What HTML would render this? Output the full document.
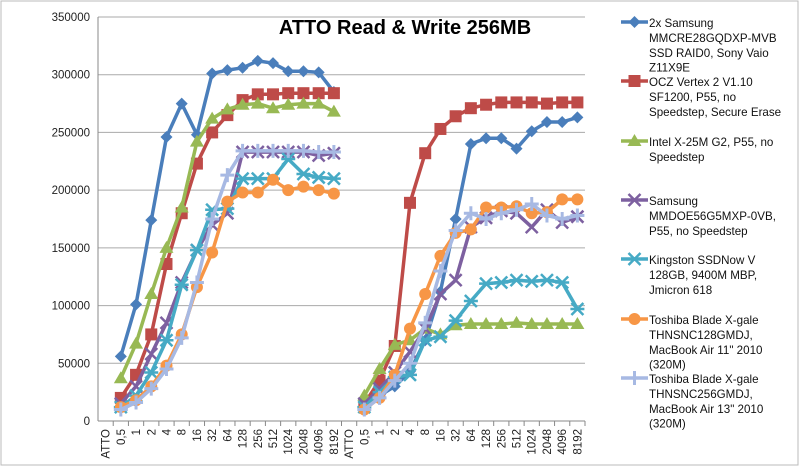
<!DOCTYPE html>
<html><head><meta charset="utf-8"><style>
body{margin:0;background:#fff;}
svg{display:block;font-family:"Liberation Sans",sans-serif;}
</style></head><body>
<svg id="chart" width="800" height="467" viewBox="0 0 800 467" xmlns="http://www.w3.org/2000/svg">
<rect x="1" y="1" width="797" height="464" fill="#fff" stroke="#bbb"/>
<text x="405" y="34" text-anchor="middle" font-size="20" font-weight="bold">ATTO Read &amp; Write 256MB</text>
<g id="grid"></g><g id="axes"></g><g id="series"></g><g id="legend"></g>
</svg>
<script>
const categories=["ATTO","0,5","1","2","4","8","16","32","64","128","256","512","1024","2048","4096","8192","ATTO","0,5","1","2","4","8","16","32","64","128","256","512","1024","2048","4096","8192"];
const yTicks=[0,50000,100000,150000,200000,250000,300000,350000];
const seriesNames=[["2x Samsung","MMCRE28GQDXP-MVB","SSD RAID0, Sony Vaio","Z11X9E"],["OCZ Vertex 2 V1.10","SF1200, P55,  no","Speedstep, Secure Erase"],["Intel X-25M G2, P55, no","Speedstep"],["Samsung","MMDOE56G5MXP-0VB,","P55, no Speedstep"],["Kingston SSDNow V","128GB, 9400M MBP,","Jmicron 618"],["Toshiba Blade X-gale","THNSNC128GMDJ,","MacBook Air 11\" 2010","(320M)"],["Toshiba Blade X-gale","THNSNC256GMDJ,","MacBook Air 13\" 2010","(320M)"]];
const s1=[null,56000,101000,174000,246000,275000,248000,301000,304000,306000,312000,310000,303000,303000,302000,285000,null,15000,22000,30000,43000,70000,112000,175000,240000,245000,245000,236000,251000,259000,259000,263000];
const s2=[null,20000,40000,75000,136000,180000,223000,250000,265000,278000,283000,283000,284000,284000,284000,284000,null,15000,35000,65000,189000,232000,253000,264000,271000,274000,276000,276000,276000,275000,276000,276000];
const s3=[null,37000,67000,110000,150000,185000,242000,262000,270000,274000,275000,271000,274000,275000,275000,268000,null,22000,45000,66000,70000,80000,75000,83000,84000,84000,84000,85000,84000,84000,84000,84000];
const s4=[null,15000,30000,58000,85000,120000,148000,170000,180000,233000,233000,233000,233000,233000,230000,232000,null,15000,28000,42000,60000,80000,110000,122000,168000,176000,182000,180000,168000,183000,172000,177000];
const s5=[null,12000,22000,42000,70000,118000,148000,183000,184000,210000,210000,210000,227000,214000,211000,210000,null,12000,25000,38000,40000,70000,73000,87000,104000,119000,120000,122000,121000,122000,120000,97000];
const s6=[null,12000,18000,30000,48000,75000,116000,146000,190000,198000,198000,209000,200000,203000,200000,197000,null,10000,20000,40000,80000,110000,143000,163000,166000,185000,185000,186000,180000,181000,192000,192000];
const s7=[null,10000,16000,28000,45000,72000,120000,175000,213000,234000,234000,234000,234000,234000,233000,233000,null,10000,20000,35000,50000,85000,130000,165000,180000,175000,180000,183000,188000,178000,175000,178000];
const allSeries=[s1,s2,s3,s4,s5,s6,s7];
const colors=["#4A7EBB","#BE4B48","#98B954","#7D60A0","#46AAC5","#F79646","#A7B9E3"];
const markers=["diamond","square","triangle","x","star","circle","plus"];
const L=98,R=585,T=17,B=421,ymax=350000;
const NS="http://www.w3.org/2000/svg";
const xs=i=>L+(R-L)/categories.length*(i+0.5);
const ys=v=>B-(B-T)*v/ymax;
function mk(tag,at,parent){const e=document.createElementNS(NS,tag);for(const k in at)e.setAttribute(k,at[k]);parent.appendChild(e);return e;}
const grid=document.getElementById('grid'),axes=document.getElementById('axes'),ser=document.getElementById('series'),leg=document.getElementById('legend');
yTicks.forEach(t=>{
 const y=ys(t);
 const g=mk('line',{x1:L,x2:R,y1:y,y2:y,stroke:t===0?'#888':'#aaa','stroke-width':1},grid);
 
 
 const tx=mk('text',{x:L-8,y:y+4,'text-anchor':'end','font-size':11.5,fill:'#222'},axes);
 tx.textContent=t;
 
 
});
const ax=mk('line',{x1:L,x2:L,y1:T,y2:B,stroke:'#888'},axes);


categories.forEach((c,i)=>{
 const x=xs(i);
 const tk=mk('line',{x1:L+(R-L)/categories.length*(i+1),x2:L+(R-L)/categories.length*(i+1),y1:B,y2:B+5,stroke:'#888'},axes);
 
 
 const tx=mk('text',{x:x+4,y:B+8,'text-anchor':'end','font-size':11.5,fill:'#222',transform:`rotate(-90 ${x+4} ${B+8})`},axes);
 tx.textContent=c;
 
 
});
function marker(type,x,y,col,parent){
 let e;
 if(type==='diamond')e=mk('path',{d:`M${x} ${y-6}L${x+6} ${y}L${x} ${y+6}L${x-6} ${y}Z`,fill:col},parent);
 else if(type==='square')e=mk('rect',{x:x-6,y:y-6,width:12,height:12,fill:col},parent);
 else if(type==='triangle')e=mk('path',{d:`M${x} ${y-7}L${x+7} ${y+5}L${x-7} ${y+5}Z`,fill:col},parent);
 else if(type==='circle')e=mk('circle',{cx:x,cy:y,r:6,fill:col},parent);
 else if(type==='x')e=mk('path',{d:`M${x-6} ${y-6}L${x+6} ${y+6}M${x+6} ${y-6}L${x-6} ${y+6}`,stroke:col,'stroke-width':2.5},parent);
 else if(type==='star')e=mk('path',{d:`M${x-6} ${y-6}L${x+6} ${y+6}M${x+6} ${y-6}L${x-6} ${y+6}M${x-7} ${y}L${x+7} ${y}`,stroke:col,'stroke-width':2.5},parent);
 else e=mk('path',{d:`M${x-7} ${y}L${x+7} ${y}M${x} ${y-7}L${x} ${y+7}`,stroke:col,'stroke-width':3},parent);
 return e;
}
allSeries.forEach((s,k)=>{
 const g=mk('g',{},ser);
 
 
 let d='',pen=false;
 s.forEach((v,i)=>{if(v===null){pen=false;return;}d+=(pen?'L':'M')+xs(i).toFixed(1)+' '+ys(v).toFixed(1);pen=true;});
 const p=mk('path',{d:d,fill:'none',stroke:colors[k],'stroke-width':3.5,'stroke-linejoin':'round'},g);
 
 
 s.forEach((v,i)=>{if(v===null)return;
  const m=marker(markers[k],xs(i),ys(v),colors[k],g);
  
  
 });
});
const legY=[22,81,141,200,259,319,378];
seriesNames.forEach((lines,k)=>{
 const g=mk('g',{},leg);
 
 
 const y=legY[k];
 mk('line',{x1:621,x2:648,y1:y,y2:y,stroke:colors[k],'stroke-width':3.5},g);
 marker(markers[k],634.5,y,colors[k],g);
 lines.forEach((ln,j)=>{
  const t=mk('text',{x:649,y:y+5+j*14.9,'font-size':11.6,fill:'#111'},g);
  t.textContent=ln;
 });
});
</script>
</body></html>
